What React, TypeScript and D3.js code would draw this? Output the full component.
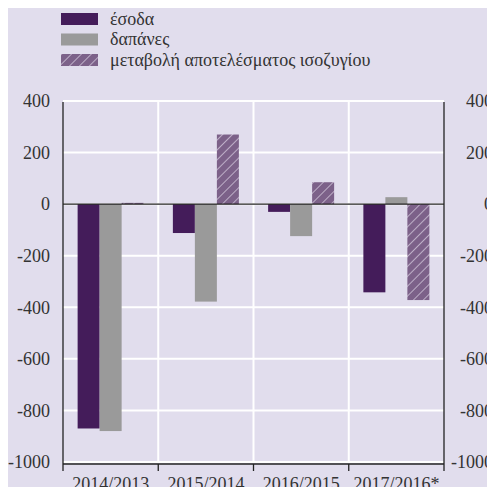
import * as d3 from "d3";
import { useEffect, useRef } from "react";

const categories = ["2014/2013", "2015/2014", "2016/2015", "2017/2016*"];
const seriesNames = ["έσοδα", "δαπάνες", "μεταβολή αποτελέσματος ισοζυγίου"];
const esoda = [-870, -112, -30, -342];
const dapanes = [-880, -378, -124, 27];
const metavoli = [5, 270, 85, -372];
const yTicks = [400, 200, 0, -200, -400, -600, -800, -1000];

const colors = ["#441c5a", "#9a9a9a", "url(#hatch)"];
const FONT = "Liberation Serif";

function styleText(g) {
  g.selectAll("text").attr("font-family", FONT).attr("font-size", 18).attr("fill", "#333");
}

function AxisLeft({ scale, x }) {
  const ref = useRef(null);
  useEffect(() => {
    if (ref.current) {
      const g = d3.select(ref.current);
      g.call(d3.axisLeft(scale).tickValues(yTicks).tickFormat((d) => String(d)).tickSize(0).tickPadding(13));
      g.select(".domain").remove();
      styleText(g);
    }
  }, [scale]);
  return <g ref={ref} transform={`translate(${x},0)`} />;
}

function AxisRight({ scale, x }) {
  const ref = useRef(null);
  useEffect(() => {
    if (ref.current) {
      const g = d3.select(ref.current);
      g.call(d3.axisRight(scale).tickValues(yTicks).tickFormat((d) => String(d)).tickSize(0));
      g.select(".domain").remove();
      styleText(g);
      g.selectAll("text").attr("text-anchor", "end").attr("x", 493 - x);
    }
  }, [scale]);
  return <g ref={ref} transform={`translate(${x},0)`} />;
}

function AxisBottom({ scale, y }) {
  const ref = useRef(null);
  useEffect(() => {
    if (ref.current) {
      const g = d3.select(ref.current);
      g.call(d3.axisBottom(scale).tickSize(0).tickPadding(15));
      g.select(".domain").remove();
      styleText(g);
    }
  }, [scale]);
  return <g ref={ref} transform={`translate(0,${y})`} />;
}

export default function App() {
  const width = 495;
  const height = 495;
  const left = 63;
  const right = 444;
  const top = 101;
  const bottom = 462;

  const x = d3.scaleBand().domain(categories).range([left, right]).padding(0);
  const bw = x.bandwidth();
  const xs = d3.scaleBand().domain(seriesNames).range([bw / 2 - 33, bw / 2 + 33]).padding(0);
  const y = d3.scaleLinear().domain([-1000, 400]).range([bottom, top]);

  const data = categories.map((c, i) => ({ c, vals: [esoda[i], dapanes[i], metavoli[i]] }));
  const boundaries = [left, ...categories.map((c) => x(c) + bw)];

  return (
    <div style={{ margin: -8 }}>
      <svg width={width} height={height} style={{ display: "block" }}>
        <defs>
          <pattern id="hatch" patternUnits="userSpaceOnUse" width="7" height="7" patternTransform="rotate(45)">
            <rect width="7" height="7" fill="#7c6189" />
            <line x1="0" y1="0" x2="0" y2="7" stroke="#d9cfe2" strokeWidth="1.4" />
          </pattern>
        </defs>
        <rect width={width} height={height} fill="#e1dded" />

        {/* legend */}
        {seriesNames.map((s, i) => (
          <g key={s} transform={`translate(61,${13 + i * 20.5})`}>
            <rect width={37} height={12} fill={colors[i]} />
            <text x={49} y={11.5} fontFamily={FONT} fontSize={18} fill="#333">
              {s}
            </text>
          </g>
        ))}

        {/* grid */}
        {yTicks.map((t) => (
          <line key={t} x1={left} x2={right} y1={y(t)} y2={y(t)} stroke="#fff" strokeWidth={2} />
        ))}
        {boundaries.slice(1, -1).map((b) => (
          <line key={b} x1={b} x2={b} y1={top} y2={bottom} stroke="#fff" strokeWidth={2} />
        ))}

        {/* bars */}
        {data.map((d) =>
          d.vals.map((v, j) => (
            <rect
              key={`${d.c}-${j}`}
              x={x(d.c) + xs(seriesNames[j])}
              y={y(Math.max(0, v))}
              width={xs.bandwidth()}
              height={Math.abs(y(v) - y(0))}
              fill={colors[j]}
            />
          ))
        )}

        {/* zero line */}
        <line x1={left} x2={right} y1={y(0)} y2={y(0)} stroke="#222" strokeWidth={1.3} />

        {/* axis frame */}
        <line x1={left} x2={left} y1={top + 1} y2={bottom + 2} stroke="#222" strokeWidth={1.3} />
        <line x1={right} x2={right} y1={top + 1} y2={bottom + 2} stroke="#222" strokeWidth={1.3} />
        <line x1={left} x2={right} y1={bottom + 2} y2={bottom + 2} stroke="#222" strokeWidth={1.3} />
        {boundaries.map((b) => (
          <line key={`t${b}`} x1={b} x2={b} y1={bottom + 2} y2={bottom + 9} stroke="#222" strokeWidth={1.3} />
        ))}

        <AxisLeft scale={y} x={left} />
        <AxisRight scale={y} x={right} />
        <AxisBottom scale={x} y={bottom} />
      </svg>
    </div>
  );
}
